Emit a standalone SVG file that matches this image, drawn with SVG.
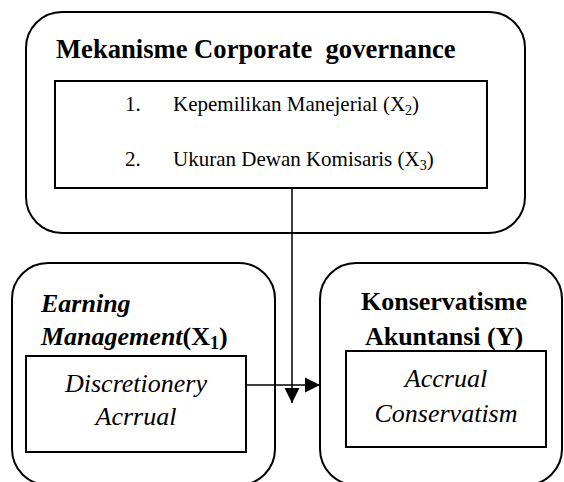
<svg xmlns="http://www.w3.org/2000/svg" width="564" height="482" viewBox="0 0 564 482">
<defs>
<style>
.box{fill:#fff;stroke:#000;stroke-width:2}
.inner{fill:#fff;stroke:#000;stroke-width:2}
.line{stroke:#000;stroke-width:1.5;fill:none}
</style>
<marker id="ah" markerWidth="16" markerHeight="16" refX="15" refY="8" orient="auto" markerUnits="userSpaceOnUse">
<path d="M0,0.5 L15,8 L0,15.5 Z" fill="#000"/>
</marker>
</defs>
<rect width="564" height="482" fill="#fff"/>
<g id="corporate-governance" font-family="'Liberation Serif', serif" fill="#000">
<rect class="box" x="26" y="12" width="499" height="221" rx="36" ry="36"/>
<text x="56" y="58" font-size="26.6" font-weight="bold" xml:space="preserve">Mekanisme Corporate  governance</text>
<rect class="inner" x="55" y="81" width="432" height="107"/>
<text x="125" y="111" font-size="21">1.</text>
<text x="173" y="111" font-size="21">Kepemilikan Manejerial (X<tspan font-size="14" dy="4">2</tspan><tspan dy="-4">)</tspan></text>
<text x="125" y="166" font-size="21">2.</text>
<text x="173" y="166" font-size="21">Ukuran Dewan Komisaris (X<tspan font-size="14" dy="4">3</tspan><tspan dy="-4">)</tspan></text>
</g>
<g id="earning-management" font-family="'Liberation Serif', serif" fill="#000">
<rect class="box" x="12" y="263" width="263" height="222" rx="36" ry="36"/>
<text x="41" y="312" font-size="26" font-weight="bold" font-style="italic">Earning</text>
<text x="41" y="345" font-size="26" font-weight="bold" font-style="italic">Management<tspan font-style="normal">(X<tspan font-size="18" dy="4">1</tspan><tspan dy="-4">)</tspan></tspan></text>
<rect class="inner" x="26" y="356" width="220" height="96"/>
<text x="136" y="392" font-size="26" font-style="italic" text-anchor="middle">Discretionery</text>
<text x="136" y="425" font-size="26" font-style="italic" text-anchor="middle">Acrrual</text>
</g>
<g id="konservatisme" font-family="'Liberation Serif', serif" fill="#000">
<rect class="box" x="320" y="263" width="242" height="222" rx="36" ry="36"/>
<text x="444" y="310" font-size="26" font-weight="bold" text-anchor="middle">Konservatisme</text>
<text x="444" y="345" font-size="26" font-weight="bold" text-anchor="middle">Akuntansi (Y)</text>
<rect class="inner" x="346" y="351" width="200" height="96"/>
<text x="446" y="387" font-size="26" font-style="italic" text-anchor="middle">Accrual</text>
<text x="446" y="422" font-size="26" font-style="italic" text-anchor="middle">Conservatism</text>
</g>
<g id="connectors">
<line class="line" x1="246" y1="385" x2="320" y2="385" marker-end="url(#ah)"/>
<line class="line" x1="292" y1="188" x2="292" y2="403" marker-end="url(#ah)"/>
</g>
</svg>
